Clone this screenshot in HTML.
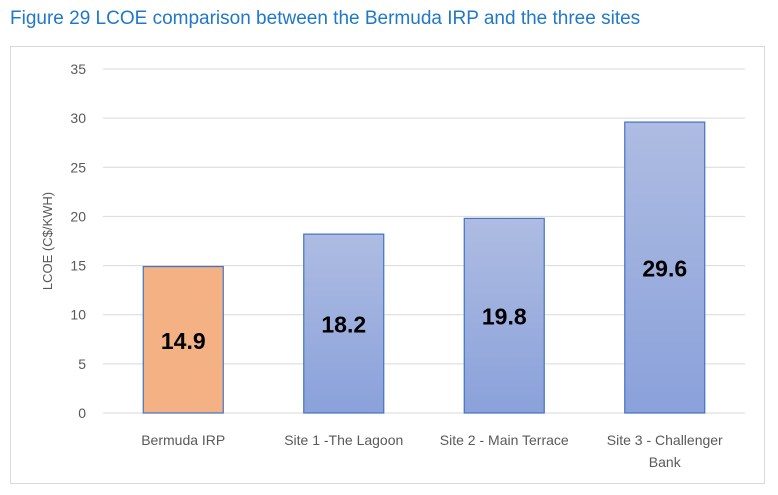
<!DOCTYPE html>
<html><head><meta charset="utf-8"><style>
body{margin:0;background:#fff;width:778px;height:495px;overflow:hidden;font-family:"Liberation Sans",sans-serif}
#title{position:absolute;left:10px;top:8px;font-size:19px;color:#1f78c8;white-space:nowrap}
#frame{position:absolute;left:10px;top:46px;width:755px;height:438px;border:1px solid #d9d9d9;box-sizing:border-box}
svg{position:absolute;left:0;top:0}
</style></head><body>
<div id="title">Figure 29 LCOE comparison between the Bermuda IRP and the three sites</div>
<div id="frame"></div>
<svg id="chart" width="778" height="495">
<defs><linearGradient id="bg" x1="0" y1="0" x2="0" y2="1"><stop offset="0" stop-color="#aebce2"/><stop offset="1" stop-color="#8aa1da"/></linearGradient></defs>
</svg>
<script>
const categories=[["Bermuda IRP"],["Site 1 -The Lagoon"],["Site 2 - Main Terrace"],["Site 3 - Challenger","Bank"]];
const values=[14.9,18.2,19.8,29.6];
const labels=["14.9","18.2","19.8","29.6"];
const ticks=[0,5,10,15,20,25,30,35];
const svg=document.getElementById('chart');const NS='http://www.w3.org/2000/svg';
const x0=103,x1=745,y0=413,yTop=69,vmax=35;
const y=v=>y0-(v/vmax)*(y0-yTop);
const band=(x1-x0)/categories.length;
const xc=i=>x0+band*(i+0.5);
function mk(t,a){const e=document.createElementNS(NS,t);for(const k in a)e.setAttribute(k,a[k]);svg.appendChild(e);return e;}
ticks.forEach(t=>{
 const l=mk('line',{x1:x0,x2:x1,y1:y(t),y2:y(t),stroke:'#d9d9d9','stroke-width':1});
 
 
 const tx=mk('text',{x:86,y:y(t)+5,'text-anchor':'end','font-size':14,fill:'#595959'});
 tx.textContent=t;
 
 
});
const yt=mk('text',{x:0,y:0,transform:'translate(52,241) rotate(-90)','text-anchor':'middle','font-size':13,fill:'#595959'});
yt.textContent='LCOE (C$/KWH)';


const bw=80;
values.forEach((v,i)=>{
 const r=mk('rect',{x:xc(i)-bw/2,y:y(v),width:bw,height:y0-y(v),fill:i===0?'#f4b183':'url(#bg)',stroke:'#4472c4','stroke-width':1.2});
 
 
 const t=mk('text',{x:xc(i),y:(y(v)+y0)/2+9,'text-anchor':'middle','font-size':23,'font-weight':'bold',fill:'#000'});
 t.textContent=labels[i];
 
 
 categories[i].forEach((s,j)=>{
  const c=mk('text',{x:xc(i),y:445+j*22,'text-anchor':'middle','font-size':14,fill:'#595959'});
  c.textContent=s;
  
  
 });
});
</script>
</body></html>
